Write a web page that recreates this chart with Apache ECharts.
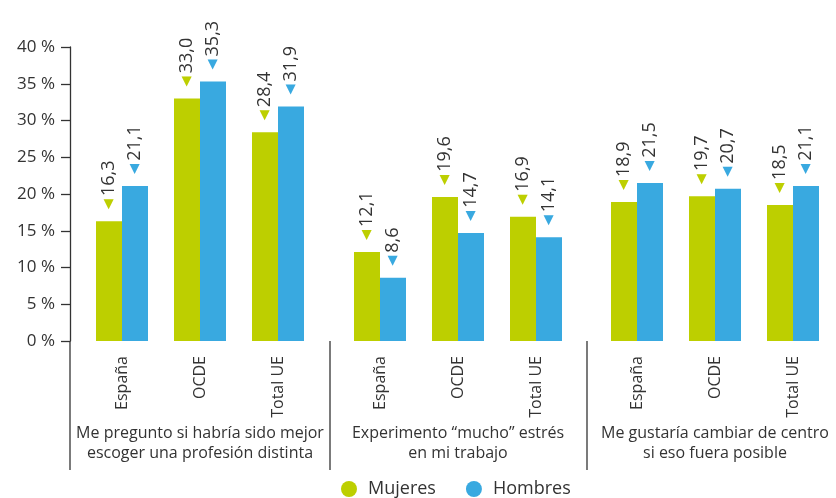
<!DOCTYPE html>
<html>
<head>
<meta charset="utf-8">
<script src="https://cdn.jsdelivr.net/npm/echarts@6/dist/echarts.min.js"></script>
<style>
html,body{margin:0;padding:0;background:#fff;}
#chart{width:836px;height:498px;}
</style>
</head>
<body>
<div id="chart"></div>
<script>
const categories = ['España', 'OCDE', 'Total UE'];
const groupLabels = [
  'Me pregunto si habría sido mejor\nescoger una profesión distinta',
  'Experimento “mucho” estrés\nen mi trabajo',
  'Me gustaría cambiar de centro\nsi eso fuera posible'
];
const seriesNames = ['Mujeres', 'Hombres'];
const mujeres = [[16.3, 33.0, 28.4], [12.1, 19.6, 16.9], [18.9, 19.7, 18.5]];
const hombres = [[21.1, 35.3, 31.9], [8.6, 14.7, 14.1], [21.5, 20.7, 21.1]];
const yMin = 0, yMax = 40, yInterval = 5;

const colors = ['#bdcf00', '#39a9e0'];
const textColor = '#333333';
const FONT = '"Open Sans", sans-serif';

const gridTop = 47, gridBottom = 157, gridWidth = 234;
const gridLefts = [83, 341, 598];
const axisX = 70;
const sepXs = [axisX, 330, 587];
const baseY = 498 - gridBottom;

const grids = [], xAxes = [], yAxes = [], series = [];
gridLefts.forEach((l, i) => {
  grids.push({ left: l, top: gridTop, bottom: gridBottom, width: gridWidth });
  xAxes.push({
    type: 'category', gridIndex: i, data: categories,
    axisLine: { show: false }, axisTick: { show: false },
    axisLabel: { rotate: 90, margin: 15, fontSize: 16, color: textColor, fontFamily: FONT }
  });
  xAxes.push({
    type: 'category', gridIndex: i, data: [groupLabels[i]], position: 'bottom', offset: 80,
    axisLine: { show: false }, axisTick: { show: false },
    axisLabel: { margin: 2, fontSize: 16, lineHeight: 20, color: textColor, fontFamily: FONT, interval: 0 }
  });
  yAxes.push({
    type: 'value', gridIndex: i, min: yMin, max: yMax, interval: yInterval,
    show: i === 0, offset: i === 0 ? (l - axisX) : 0,
    splitLine: { show: false },
    axisLine: { show: true, lineStyle: { color: textColor, width: 1.3 } },
    axisTick: { show: true, inside: false, length: 9, lineStyle: { color: textColor, width: 1.3 } },
    axisLabel: { formatter: '{value} %', fontSize: 17, margin: 15, color: textColor, fontFamily: FONT }
  });
  [mujeres[i], hombres[i]].forEach((vals, s) => {
    series.push({
      name: seriesNames[s], type: 'bar', xAxisIndex: i * 2, yAxisIndex: i,
      data: vals, barWidth: 26, barGap: '0%',
      itemStyle: { color: colors[s] },
      label: {
        show: true, position: 'top', distance: 12, rotate: 90,
        align: 'left', verticalAlign: 'middle',
        formatter: p => '{t|◀} {v|' + p.value.toFixed(1).replace('.', ',') + '}',
        rich: {
          t: { color: colors[s], fontSize: 13, fontFamily: 'DejaVu Sans' },
          v: { color: textColor, fontSize: 18, fontFamily: FONT }
        }
      }
    });
  });
});

const graphic = sepXs.map(x => ({
  type: 'line', shape: { x1: x, y1: baseY, x2: x, y2: 470 },
  style: { stroke: textColor, lineWidth: 1.3 }
}));

const chart = echarts.init(document.getElementById('chart'));
chart.setOption({
  animation: false,
  textStyle: { fontFamily: FONT },
  grid: grids, xAxis: xAxes, yAxis: yAxes, series: series,
  graphic: graphic,
  legend: {
    data: seriesNames, top: 475, left: 336, icon: 'circle',
    itemWidth: 16, itemHeight: 16, itemGap: 30,
    textStyle: { fontSize: 18, color: textColor, fontFamily: FONT, padding: [0, 0, 0, 6] }
  }
});
</script>
</body>
</html>
